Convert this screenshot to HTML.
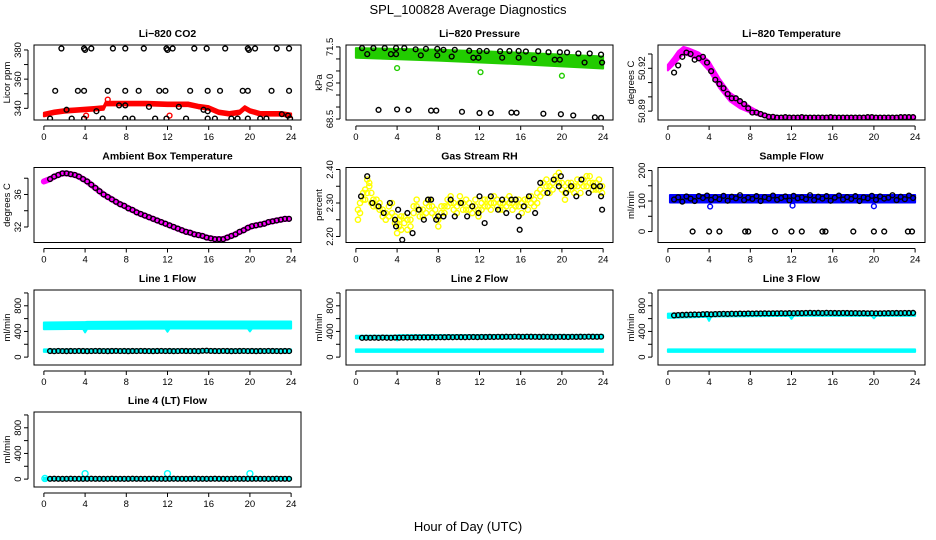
<!DOCTYPE html>
<html><head><meta charset="utf-8"><style>
html,body{margin:0;padding:0;background:#fff;}
svg{display:block;font-family:"Liberation Sans",sans-serif;}
</style></head><body>
<svg id="chart" width="936" height="540" viewBox="0 0 936 540">
<text x="468" y="14" font-size="13" text-anchor="middle">SPL_100828  Average Diagnostics</text>
<text x="468" y="531" font-size="13" text-anchor="middle">Hour of Day (UTC)</text>
</svg>
<script>
// ---------- data ----------
const xTicks = [0,4,8,12,16,20,24];
const flowBx = [0.6,1.0,1.4,1.8,2.2,2.6,3.0,3.4,3.8,4.2,4.6,5.0,5.4,5.8,6.2,6.6,7.0,7.4,7.8,8.2,8.6,9.0,9.4,9.8,10.2,10.6,11.0,11.4,11.8,12.2,12.6,13.0,13.4,13.8,14.2,14.6,15.0,15.4,15.8,16.2,16.6,17.0,17.4,17.8,18.2,18.6,19.0,19.4,19.8,20.2,20.6,21.0,21.4,21.8,22.2,22.6,23.0,23.4,23.8];

// CO2
const co2BandX = [0,1,2,3,4,5,5.8,6,7,8,10,12,14,15,16,17,18,19,19.5,20,21,22,23,24];
const co2BandLo = [334.5,336,337,337.5,338,338.5,339,342,342,342,342,341.5,341.5,340,339,336,335,336,339,337,335,335,335,334];
const co2BandHi = [337,338.5,339.5,340,340.5,341,341.5,344.5,344.5,344.5,344.5,344,344,342.5,341.5,338.5,337.5,338.5,341.5,339.5,337.5,337.5,337.5,336.5];
const co2Bx = [1.7,3.9,4.0,4.6,6.7,7.9,9.7,11.9,12.0,12.5,14.6,15.8,17.6,19.8,19.9,20.5,22.6,23.8, 1.1,3.3,3.9,6.2,7.9,9.2,11.2,11.8,14.2,15.9,17.1,19.3,19.8,22.1,23.8, 0.6,2.7,3.9,5.7,7.9,8.6,10.8,11.9,13.8,15.9,16.6,18.2,18.8,19.8,21.0,21.6,23.9, 2.2,5.1,7.3,7.9,10.2,13.1,15.5,15.9,23.1,23.7];
const co2By = [381,381,380,381,381,381,381,381,380,381,381,381,381,381,380,381,381,381, 352,352,352,352,352,352,352,352,352,352,352,352,352,352,352, 333,333,333,333,333,333,333,333,333,333,333,333,333,333,333,333,333, 339,338,342,342,341,341,339,338,336,335];
const co2Rx = [4.1,12.2,6.2];
const co2Ry = [335,335,346];

// Pressure
const prBandX = [0,8,16,24];
const prBandLo = [71.05,70.93,70.78,70.6];
const prBandHi = [71.45,71.38,71.26,71.1];
const prBx = [0.6,1.7,2.8,3.9,4.7,5.8,6.8,7.9,8.5,9.6,11.0,12.0,12.7,14.0,14.9,15.8,16.5,17.7,18.7,19.8,20.5,21.6,22.7,23.8, 1.1,3.4,3.9,6.3,7.9,9.3,11.4,11.9,14.2,15.8,17.3,19.3,19.8,22.2,23.9, 2.2,4.0,5.1,7.3,7.8,10.3,12.0,13.1,15.1,15.6,18.2,19.9,21.1,23.2,23.8];
const prBy = [71.45,71.45,71.45,71.45,71.45,71.4,71.42,71.42,71.38,71.38,71.34,71.33,71.33,71.32,71.33,71.33,71.31,71.32,71.28,71.28,71.27,71.23,71.23,71.18, 71.2,71.2,71.2,71.15,71.15,71.1,71.05,71.05,71.05,71.05,71.0,70.97,70.97,70.85,70.85, 68.88,68.9,68.88,68.85,68.85,68.8,68.75,68.75,68.77,68.76,68.72,68.7,68.65,68.57,68.55];
const prGx = [4.0,12.1,20.0];
const prGy = [70.62,70.45,70.3];

// Li-820 temperature
const tBandX = [0,0.5,1,1.5,2,3,4,5,6,7,8,9,10,11,24];
const tBandLo = [50.9185,50.922,50.926,50.930,50.929,50.926,50.918,50.906,50.897,50.892,50.889,50.8865,50.885,50.8848,50.8848];
const tBandHi = [50.9225,50.927,50.932,50.935,50.934,50.931,50.925,50.913,50.903,50.898,50.893,50.889,50.887,50.8865,50.8865];
const tBy = [50.917,50.922,50.928,50.931,50.930,50.926,50.927,50.928,50.924,50.918,50.912,50.909,50.906,50.902,50.899,50.899,50.897,50.895,50.892,50.889,50.889,50.888,50.887,50.886,50.886,
50.8855,50.8855,50.8858,50.8855,50.8855,50.8855,50.8858,50.8855,50.8855,50.8855,50.8855,50.8855,50.8855,50.8858,50.8855,50.8855,50.8855,50.8855,50.8855,50.8855,50.8855,50.8855,50.8858,50.8858,50.8855,50.8855,50.8855,50.8855,50.8855,50.8855,50.8858,50.8858,50.8858,50.8858];

// Ambient box temperature
const ambY = [37.9,38.2,38.4,38.6,38.6,38.5,38.4,38.2,37.9,37.6,37.2,36.8,36.4,36.0,35.7,35.4,35.1,34.8,34.6,34.3,34.1,33.8,33.6,33.4,33.2,33.0,32.8,32.6,32.4,32.2,32.0,31.8,31.6,31.4,31.3,31.1,31.0,30.9,30.7,30.6,30.5,30.5,30.5,30.7,30.9,31.1,31.4,31.6,31.9,32.1,32.2,32.3,32.4,32.6,32.7,32.8,32.9,33.0,33.0];
const ambStartY = 37.6;

// Gas stream RH
const rhYx = [0.2,0.4,0.7,0.9,1.1,1.3,1.5,1.7,2.0,2.3,2.6,2.9,3.2,3.5,3.8,4.0,4.2,4.4,4.7,5.0,5.3,5.6,5.9,6.2,6.5,6.8,7.1,7.4,7.7,8.0,8.3,8.6,8.9,9.2,9.5,9.8,10.1,10.4,10.7,11.0,11.3,11.6,11.9,12.2,12.5,12.8,13.1,13.4,13.7,14.0,14.3,14.6,14.9,15.2,15.5,15.8,16.1,16.4,16.7,17.0,17.3,17.6,17.9,18.2,18.5,18.8,19.1,19.4,19.7,20.0,20.3,20.6,20.9,21.2,21.5,21.8,22.1,22.4,22.7,23.0,23.3,23.6,23.9];
const rhY1 = [2.25,2.27,2.31,2.34,2.37,2.35,2.33,2.31,2.29,2.28,2.26,2.25,2.29,2.27,2.24,2.21,2.23,2.26,2.24,2.22,2.25,2.27,2.29,2.28,2.26,2.30,2.29,2.27,2.28,2.25,2.27,2.29,2.31,2.30,2.28,2.29,2.32,2.30,2.28,2.30,2.27,2.29,2.28,2.30,2.31,2.29,2.30,2.32,2.29,2.30,2.28,2.31,2.30,2.28,2.29,2.31,2.27,2.29,2.31,2.30,2.29,2.33,2.34,2.36,2.35,2.33,2.36,2.37,2.39,2.36,2.31,2.34,2.36,2.33,2.35,2.36,2.37,2.35,2.38,2.36,2.34,2.37,2.35];
const rhY2 = [2.28,2.30,2.33,2.31,2.33,2.36,2.30,2.29,2.31,2.30,2.28,2.27,2.26,2.30,2.26,2.24,2.25,2.22,2.26,2.25,2.23,2.29,2.31,2.26,2.28,2.27,2.31,2.29,2.26,2.23,2.29,2.27,2.29,2.32,2.30,2.27,2.30,2.28,2.31,2.28,2.29,2.31,2.26,2.28,2.29,2.31,2.28,2.30,2.31,2.28,2.30,2.29,2.32,2.30,2.31,2.29,2.30,2.31,2.28,2.32,2.31,2.30,2.32,2.33,2.37,2.35,2.34,2.38,2.36,2.34,2.33,2.36,2.34,2.35,2.37,2.33,2.35,2.38,2.36,2.34,2.36,2.34,2.33];
const rhBx = [0.5,1.1,1.6,2.2,2.7,3.3,3.8,3.9,4.1,4.5,5.0,5.5,6.1,6.6,7.0,7.3,7.8,8.0,8.5,9.2,9.6,10.2,10.8,11.3,11.9,12.0,12.5,13.1,13.8,14.2,14.6,15.1,15.5,15.8,15.9,16.3,16.8,17.4,17.9,18.6,19.2,19.7,19.9,20.4,20.9,21.4,21.9,22.6,23.1,23.7,23.8,23.9];
const rhBy = [2.32,2.38,2.30,2.29,2.27,2.30,2.25,2.23,2.28,2.19,2.27,2.21,2.28,2.25,2.31,2.31,2.25,2.26,2.26,2.31,2.26,2.30,2.26,2.29,2.27,2.32,2.24,2.32,2.28,2.31,2.27,2.31,2.31,2.26,2.22,2.29,2.32,2.27,2.36,2.33,2.37,2.35,2.38,2.33,2.35,2.32,2.37,2.33,2.35,2.35,2.32,2.28];

// Sample flow
const sfBandX = [0.2,24];
const sfBandLo = [95,95];
const sfBandHi = [120,120];
const sfBy = [105,112,98,115,108,100,116,110,118,104,112,106,117,101,114,109,119,103,111,107,116,100,113,108,118,104,110,115,102,117,109,112,106,119,103,114,108,116,101,111,118,105,113,107,116,100,112,109,117,104,115,108,111,119,103,114,106,118,110];
const sfZx = [2.4,4.0,5.0,7.5,7.8,10.4,12.0,13.0,15.0,15.3,18.0,20.0,21.0,23.3,23.7];
const sfZy = [0,0,0,0,0,0,0,0,0,0,0,0,0,0,0];
const sfOx = [4.1,12.1,20.0];
const sfOy = [82,85,83];

// Line flows
const l1BandX = [0,3.8,4.0,4.2,11.8,12.0,12.2,19.8,20.0,20.2,24];
const l1BandLo = [435,440,385,440,445,395,445,445,400,445,445];
const l1BandHi = [540,545,545,550,555,555,555,555,555,555,555];
const lowBandX = [0,24];
const lowBandLo = [82,82];
const lowBandHi = [120,120];
const l1By = [95,92,96,94,93,95,94,96,95,93,94,96,95,94,93,95,96,94,95,93,95,94,96,95,94,93,95,96,94,95,93,94,96,95,94,95,93,98,100,96,95,94,96,95,93,94,95,96,94,95,93,95,94,96,95,94,93,95,94];
const l2BandX = [0,3.8,4.0,4.2,24];
const l2BandLo = [292,294,260,297,302];
const l2BandHi = [332,335,338,342,347];
const l2By = [300,302,301,303,300,304,302,301,305,303,304,306,305,307,306,308,307,309,308,310,309,311,310,312,311,310,312,313,311,314,313,315,314,316,315,317,316,318,317,316,318,317,316,315,317,316,315,314,316,315,314,316,315,317,316,318,317,316,318];
const l3BandX = [0,3.8,4.0,4.2,11.8,12.0,12.2,19.8,20.0,20.2,24];
const l3BandLo = [612,627,565,632,642,595,642,642,605,642,642];
const l3BandHi = [678,683,688,693,698,698,703,698,698,698,698];
const l3By = [650,655,658,660,662,664,663,668,670,666,670,672,674,673,676,675,678,677,680,679,681,680,682,681,683,682,684,683,685,684,686,685,688,690,687,689,686,690,688,687,686,688,687,685,686,684,685,683,684,682,683,684,685,686,687,686,688,687,689];
const l4BandX = [0,24];
const l4BandLo = [-8,-8];
const l4BandHi = [22,22];
const l4By = [5,6,5,4,5,6,5,5,4,5,6,5,5,4,5,6,5,5,4,5,6,5,5,4,5,6,5,5,4,5,6,5,5,4,5,6,5,5,4,5,6,5,5,4,5,6,5,5,4,5,6,5,5,4,5,6,5,5,4];
const l4Ox = [4.0,12.0,20.0,0.1];
const l4Oy = [85,85,85,10];

// ---------- drawing ----------
const NS = 'http://www.w3.org/2000/svg';
const svg = document.getElementById('chart');
const colX = [34,346,658], rowY = [45,167.5,290,412];
const W = 267, H = 75;

function mk(tag, attrs, parent) {
  const e = document.createElementNS(NS, tag);
  for (const k in attrs) e.setAttribute(k, attrs[k]);
  (parent || svg).appendChild(e);
  return e;
}

function makePanel(col, row, name, title, ylab, ylim, yticks, ylabels) {
  const x0 = colX[col], y0 = rowY[row];
  const g = mk('g', {});
  
  
  const sx = v => x0 + (v + 0.96) / 25.92 * W;
  const sy = v => y0 + H - (v - ylim[0]) / (ylim[1] - ylim[0]) * H;
  const t = mk('text', {x: x0 + W / 2, y: y0 - 8, 'font-size': 10.5, 'font-weight': 'bold', 'text-anchor': 'middle'}, g);
  t.textContent = title;
  
  
  const plot = mk('g', {}, g);
  
  
  const xa = mk('g', {}, g);
  
  
  mk('line', {x1: sx(0), x2: sx(24), y1: y0 + H + 6, y2: y0 + H + 6, stroke: '#000', 'stroke-width': 1}, xa);
  xTicks.forEach(v => {
    mk('line', {x1: sx(v), x2: sx(v), y1: y0 + H + 6, y2: y0 + H + 10, stroke: '#000'}, xa);
    const l = mk('text', {x: sx(v), y: y0 + H + 20, 'font-size': 9.5, 'text-anchor': 'middle'}, xa);
    l.textContent = v;
  });
  const ya = mk('g', {}, g);
  
  
  mk('line', {x1: x0 - 6, x2: x0 - 6, y1: sy(yticks[0]), y2: sy(yticks[yticks.length - 1]), stroke: '#000'}, ya);
  yticks.forEach(v => mk('line', {x1: x0 - 10, x2: x0 - 6, y1: sy(v), y2: sy(v), stroke: '#000'}, ya));
  ylabels.forEach(v => {
    const l = mk('text', {x: 0, y: 0, 'font-size': 9.5, 'text-anchor': 'middle', transform: `translate(${x0 - 13},${sy(v)}) rotate(-90)`}, ya);
    l.textContent = v;
  });
  const yl = mk('text', {x: 0, y: 0, 'font-size': 9.5, 'text-anchor': 'middle', transform: `translate(${x0 - 24},${y0 + H / 2}) rotate(-90)`}, g);
  yl.textContent = ylab;
  
  
  const cid = 'clip-' + name;
  const cp = mk('clipPath', {id: cid}, g);
  mk('rect', {x: x0, y: y0, width: W, height: H}, cp);
  plot.setAttribute('clip-path', `url(#${cid})`);
  const b = mk('rect', {x: x0, y: y0, width: W, height: H, fill: 'none', stroke: '#000', 'stroke-width': 1}, g);
  
  
  return {sx, sy, plot, name};
}

function band(p, xs, lo, hi, color, label) {
  let d = '';
  xs.forEach((x, i) => { d += (i ? 'L' : 'M') + p.sx(x) + ',' + p.sy(hi[i]); });
  for (let i = xs.length - 1; i >= 0; i--) d += 'L' + p.sx(xs[i]) + ',' + p.sy(lo[i]);
  const e = mk('path', {d: d + 'Z', fill: color, stroke: color, 'stroke-width': 2, 'stroke-linejoin': 'round'}, p.plot);
  
  
}

function pts(p, xs, ys, color, label, r) {
  const g = mk('g', {}, p.plot);
  
  
  xs.forEach((x, i) => {
    mk('circle', {cx: p.sx(x), cy: p.sy(ys[i]), r: r || 2.4, fill: 'none', stroke: color, 'stroke-width': 1.4}, g);
  });
}

function thickLine(p, xs, ys, color, label, w) {
  const e = mk('polyline', {points: xs.map((x, i) => p.sx(x) + ',' + p.sy(ys[i])).join(' '), fill: 'none', stroke: color, 'stroke-width': w, 'stroke-linejoin': 'round', 'stroke-linecap': 'round'}, p.plot);
  
  
}

const flowTicks = [0,200,400,600,800,1000], flowLabels = [0,400,800], flowLim = [-123,1046];

let p = makePanel(0, 0, 'co2', 'Li\u2212820 CO2', 'Licor ppm', [332,383.4], [340,350,360,370,380], [340,360,380]);
band(p, co2BandX, co2BandLo, co2BandHi, '#ff0000', 'red-band');
pts(p, co2Rx, co2Ry, '#ff0000', 'red-points');
pts(p, co2Bx, co2By, '#000', 'black-points');

p = makePanel(1, 0, 'pressure', 'Li\u2212820 Pressure', 'kPa', [68.46,71.58], [68.5,69,69.5,70,70.5,71,71.5], ['68.5','70.0','71.5']);
band(p, prBandX, prBandLo, prBandHi, '#22cc00', 'green-band');
pts(p, prGx, prGy, '#22cc00', 'green-points');
pts(p, prBx, prBy, '#000', 'black-points');

p = makePanel(2, 0, 'li820-temp', 'Li\u2212820 Temperature', 'degrees C', [50.8838,50.9363], [50.89,50.9,50.91,50.92,50.93], ['50.89','50.92']);
band(p, tBandX, tBandLo, tBandHi, '#ff00ff', 'magenta-band');
pts(p, flowBx, tBy, '#000', 'black-points');

p = makePanel(0, 1, 'ambient', 'Ambient Box Temperature', 'degrees C', [30.09,39.32], [32,34,36,38], [32,36]);
thickLine(p, [0].concat(flowBx), [ambStartY].concat(ambY), '#ff00ff', 'magenta-line', 6);
pts(p, flowBx, ambY, '#000', 'black-points');

p = makePanel(1, 1, 'rh', 'Gas Stream RH', 'percent', [2.182,2.406], [2.2,2.25,2.3,2.35,2.4], ['2.20','2.30','2.40']);
pts(p, rhYx, rhY1, '#ffff00', 'yellow-points-a', 2.6);
pts(p, rhYx, rhY2, '#ffff00', 'yellow-points-b', 2.6);
pts(p, rhBx, rhBy, '#000', 'black-points');

p = makePanel(2, 1, 'sample-flow', 'Sample Flow', 'ml/min', [-36,210], [0,50,100,150,200], [0,100,200]);
band(p, sfBandX, sfBandLo, sfBandHi, '#0000ff', 'blue-band');
pts(p, sfOx, sfOy, '#0000ff', 'blue-points');
pts(p, flowBx, sfBy, '#000', 'black-points');
pts(p, sfZx, sfZy, '#000', 'zero-points');

p = makePanel(0, 2, 'line1', 'Line 1 Flow', 'ml/min', flowLim, flowTicks, flowLabels);
band(p, l1BandX, l1BandLo, l1BandHi, '#00ffff', 'cyan-band');
band(p, lowBandX, lowBandLo, lowBandHi, '#00ffff', 'cyan-low-band');
pts(p, flowBx, l1By, '#000', 'black-points');

p = makePanel(1, 2, 'line2', 'Line 2 Flow', 'ml/min', flowLim, flowTicks, flowLabels);
band(p, l2BandX, l2BandLo, l2BandHi, '#00ffff', 'cyan-band');
band(p, lowBandX, lowBandLo, lowBandHi, '#00ffff', 'cyan-low-band');
pts(p, flowBx, l2By, '#000', 'black-points');

p = makePanel(2, 2, 'line3', 'Line 3 Flow', 'ml/min', flowLim, flowTicks, flowLabels);
band(p, l3BandX, l3BandLo, l3BandHi, '#00ffff', 'cyan-band');
band(p, lowBandX, lowBandLo, lowBandHi, '#00ffff', 'cyan-low-band');
pts(p, flowBx, l3By, '#000', 'black-points');

p = makePanel(0, 3, 'line4', 'Line 4 (LT) Flow', 'ml/min', flowLim, flowTicks, flowLabels);
band(p, l4BandX, l4BandLo, l4BandHi, '#00ffff', 'cyan-band');
pts(p, l4Ox, l4Oy, '#00ffff', 'cyan-points', 3);
pts(p, flowBx, l4By, '#000', 'black-points');
</script>
</body></html>
